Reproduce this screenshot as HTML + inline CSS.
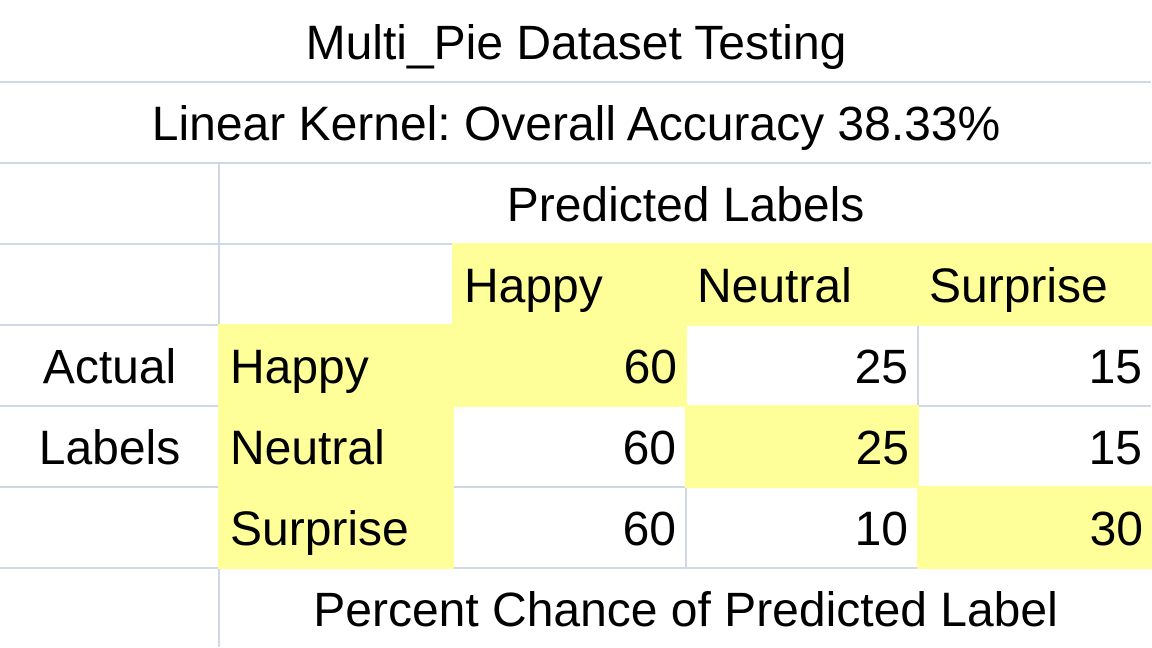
<!DOCTYPE html>
<html><head><meta charset="utf-8"><style>
body{margin:0;width:1152px;height:648px;background:#fff;overflow:hidden;position:relative;font-family:"Liberation Sans",sans-serif;}
.l{position:absolute;background:#d0d7e5;}
.c{position:absolute;display:flex;align-items:center;font-size:48px;color:#000;box-sizing:border-box;white-space:nowrap;padding-top:4px;}
.y{background:#ffff99;}
.ctr{justify-content:center}.rt{justify-content:flex-end;padding-right:10px}.lf{padding-left:12px}
</style></head><body>
<div id="g"></div>
<div id="cells"></div>
<script>
const xs=[0,219,453,686,918,1152];
const ys=[0,82,163,244,325,406,487,568,648];
const predicted=["Happy","Neutral","Surprise"];
const actual=["Happy","Neutral","Surprise"];
const values=[[60,25,15],[60,25,15],[60,10,30]];
const g=document.getElementById('g');
function line(x,y,w,h,n){const d=document.createElement('div');d.className='l';d.style.cssText=`left:${x-1}px;top:${y-1}px;width:${w}px;height:${h}px`;


g.appendChild(d);}
for(let i=1;i<ys.length-1;i++)line(0,ys[i],1152,2,'h-gridline');
line(xs[1],ys[2],2,648-ys[2],'v-gridline');
for(let j=2;j<5;j++)line(xs[j],ys[3],2,ys[7]-ys[3],'v-gridline');
const C=document.getElementById('cells');
function cell(c0,c1,r,txt,cls,n){const d=document.createElement('div');d.className='c '+cls;
d.style.cssText=`left:${xs[c0]}px;top:${ys[r]}px;width:${xs[c1]-xs[c0]}px;height:${ys[r+1]-ys[r]}px`;
if(cls.includes('y')){d.style.left=(xs[c0]-1)+'px';d.style.top=(ys[r]-1)+'px';d.style.width=(xs[c1]-xs[c0]+2)+'px';d.style.height=(ys[r+1]-ys[r]+2)+'px';}
d.textContent=txt;


C.appendChild(d);}
cell(0,5,0,'Multi_Pie Dataset Testing','ctr','title');
cell(0,5,1,'Linear Kernel: Overall Accuracy 38.33%','ctr','subtitle');
cell(1,5,2,'Predicted Labels','ctr','predicted-axis-title');
cell(1,5,7,'Percent Chance of Predicted Label','ctr','footer-caption');
cell(0,1,4,'Actual','ctr','actual-axis-title');
cell(0,1,5,'Labels','ctr','actual-axis-title-2');
predicted.forEach((p,j)=>cell(j+2,j+3,3,p,'y lf','predicted-header-'+p.toLowerCase()));
actual.forEach((a,i)=>{
  cell(1,2,4+i,a,'y lf','actual-header-'+a.toLowerCase());
  values[i].forEach((v,j)=>cell(j+2,j+3,4+i,String(v),(i===j?'y ':'')+'rt','value-cell-'+i+'-'+j));
});
</script>
</body></html>
